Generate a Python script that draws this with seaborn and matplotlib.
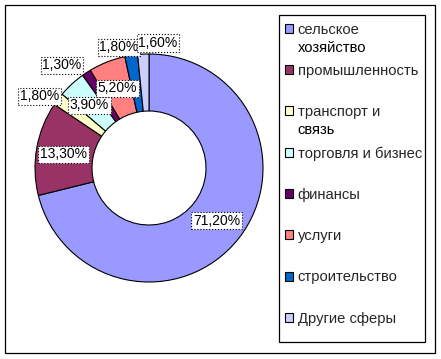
import numpy as np
import matplotlib
matplotlib.use("Agg")
import matplotlib.pyplot as plt
import seaborn as sns
from matplotlib.patches import Rectangle
from matplotlib.text import Annotation

# ---- data ----
categories = ["сельское\nхозяйство", "промышленность", "транспорт и\nсвязь",
              "торговля и бизнес", "финансы", "услуги", "строительство", "Другие сферы"]
values = [71.2, 13.3, 1.8, 3.9, 1.3, 5.2, 1.8, 1.6]
colors = ["#9999FF", "#993366", "#FFFFCC", "#CCFFFF", "#660066", "#FF8080", "#0066CC", "#CCCCFF"]

# ---- label layout (radius relative to outer radius, angular nudge in degrees) ----
label_r = [0.75, 0.76, 1.15, 0.76, 1.18, 0.75, 1.09, 1.10]
label_dang = [0, 1, 4, 1, 7, 0, 5, -7]

sns.set_theme(style="white")
plt.rcParams['font.family'] = ['Liberation Sans', 'DejaVu Sans']

W, H = 441, 359
fig = plt.figure(figsize=(W / 100, H / 100), dpi=100)
fig.patch.set_facecolor("white")

cx, cy, R = 149, 168, 114
side = 2.5 * R
ax = fig.add_axes([(cx - side / 2) / W, (H - cy - side / 2) / H, side / W, side / H])
palette = sns.color_palette(colors)
wedges, _ = ax.pie(values, colors=palette, startangle=90, counterclock=False, radius=1.0,
                   wedgeprops=dict(width=0.5, edgecolor="black", linewidth=0.8))
ax.set_xlim(-1.25, 1.25)
ax.set_ylim(-1.25, 1.25)
ax.set_aspect("equal")
ax.axis("off")

for w, v, r, da in zip(wedges, values, label_r, label_dang):
    ang = np.deg2rad((w.theta1 + w.theta2) / 2 + da)
    txt = f"{v:.2f}".replace(".", ",") + "%"
    ax.text(r * np.cos(ang), r * np.sin(ang), txt, ha="center", va="center", fontsize=10,
            color="black",
            bbox=dict(boxstyle="square,pad=0.12", fc="white", ec="black", ls=":", lw=0.8))

# ---- legend ----
LEG_FS = 10.6
first_lines = [c.split("\n")[0] for c in categories]
leg = fig.legend(wedges, first_lines, loc="upper left",
                 bbox_to_anchor=(285 / W, 1 - 22.5 / H), frameon=False,
                 fontsize=LEG_FS, handlelength=0.55, handleheight=0.55, handletextpad=0.3,
                 labelspacing=1.85, borderpad=0, borderaxespad=0)
for t, c in zip(leg.get_texts(), categories):
    parts = c.split("\n")
    if len(parts) > 1:
        ann = Annotation(parts[1], xy=(0, 0.5), xycoords=t, xytext=(0, -18 * 0.72),
                         textcoords="offset points", va="center", ha="left",
                         fontsize=LEG_FS, color="black")
        ann.set_zorder(10)
        fig.add_artist(ann)

# frames
fig.add_artist(Rectangle((5 / W, (H - 353) / H), 430 / W, 348 / H, fill=False,
                         ec="black", lw=0.9, transform=fig.transFigure))
fig.add_artist(Rectangle((279 / W, (H - 342) / H), 146 / W, 327 / H, fill=False,
                         ec="black", lw=0.9, transform=fig.transFigure))

fig.savefig("out.png", dpi=100)
